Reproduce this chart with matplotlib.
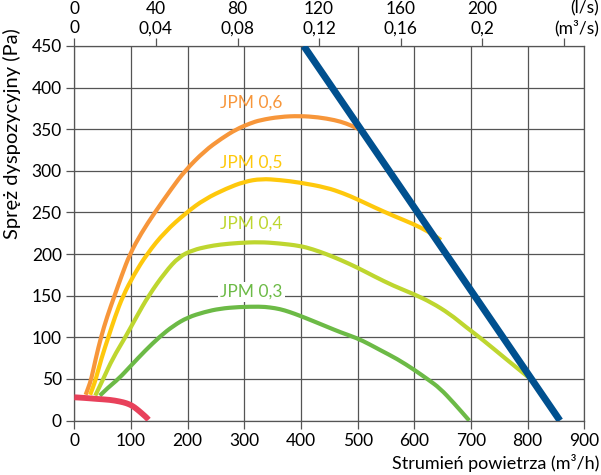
import matplotlib
matplotlib.use("Agg")
import matplotlib.pyplot as plt
from matplotlib.path import Path
from matplotlib.patches import PathPatch

plt.rcParams['font.family'] = ['Lato', 'DejaVu Sans']

# ---- data ----
x_ticks = [0, 100, 200, 300, 400, 500, 600, 700, 800, 900]
y_ticks = [0, 50, 100, 150, 200, 250, 300, 350, 400, 450]
top_ls = [0, 40, 80, 120, 160, 200, 240]
top_ls_labels = ["0", "40", "80", "120", "160", "200", ""]
top_m3s_labels = ["0", "0,04", "0,08", "0,12", "0,16", "0,2", ""]

jpm06_x = [20, 25, 30, 38, 47, 58, 71, 84, 98, 118, 142, 172, 195, 230, 260, 286,
           310, 328, 363, 398, 430, 460, 480, 500, 513]
jpm06_y = [31, 40, 50, 75, 100, 125, 150, 175, 200, 225, 250, 279, 300, 324, 339, 350,
           357, 361, 365, 366, 364.5, 361, 357, 351, 345]

jpm05_x = [28, 33, 38, 48, 60, 72, 86, 105, 128, 160, 198, 230, 269, 300, 330, 363,
           398, 445, 475, 499, 530, 563, 599, 625, 647]
jpm05_y = [31, 40, 50, 75, 100, 125, 150, 175, 200, 227, 250, 266, 279, 287, 290.5, 289,
           286, 280, 273, 266, 256, 246, 236, 227, 217]

jpm04_x = [37, 44, 51, 68, 90, 110, 131, 160, 185, 210, 235, 257, 290, 327, 360, 398, 420,
           445, 470, 499, 530, 563, 599, 630, 663, 690, 721, 760, 807]
jpm04_y = [30, 40, 50, 75, 100, 125, 150, 178, 197, 205, 209, 211.5, 213.5, 214.5, 213, 210, 206,
           200, 193, 184, 173, 162, 152, 142, 128, 113, 97, 75, 49]

jpm03_x = [45, 60, 78, 100, 125, 151, 175, 200, 230, 257, 290, 328, 345, 363, 380, 398,
           420, 445, 470, 499, 520, 539, 570, 600, 625, 645, 670, 697]
jpm03_y = [30, 40, 50, 66, 84, 101, 114, 124, 130.5, 134.5, 136.5, 137, 136, 134, 130.5, 126,
           120, 113, 106, 99, 92, 85, 74, 61, 49, 39, 21, 0]

system_x = [405, 857]
system_y = [450, 0]

red_x = [0, 20, 40, 63, 80, 92, 102, 110, 117, 122, 127, 131]
red_y = [28, 27.2, 26, 25, 23, 21, 18, 14, 10, 7, 4, 1]

labels = ["JPM 0,6", "JPM 0,5", "JPM 0,4", "JPM 0,3"]
label_pos = [(257, 382), (257, 309.5), (257, 236.3), (257, 154.8)]

c_orange = "#f7963a"
c_yellow = "#fec80c"
c_lgreen = "#bed62f"
c_green = "#6cba46"
c_blue = "#00508f"
c_red = "#e8415b"
grid_c = "#555555"


def smooth_curve(ax, xs, ys, color, lw, zorder):
    """Quadratic-Bezier rendering through the read points (points used as controls)."""
    pts = list(zip(xs, ys))
    verts = [pts[0]]
    codes = [Path.MOVETO]
    for i in range(1, len(pts) - 1):
        mid = ((pts[i][0] + pts[i + 1][0]) / 2, (pts[i][1] + pts[i + 1][1]) / 2)
        verts += [pts[i], mid]
        codes += [Path.CURVE3, Path.CURVE3]
    verts.append(pts[-1])
    codes.append(Path.LINETO)
    patch = PathPatch(Path(verts, codes), facecolor='none', edgecolor=color, lw=lw,
                      capstyle='butt', joinstyle='round', zorder=zorder,
                      transform=ax.transData)
    ax.add_patch(patch)


fig = plt.figure(figsize=(6.01, 4.75), dpi=100)
ax = fig.add_axes([74.3 / 601, 1 - 420.6 / 475, 510 / 601, 374.6 / 475])
ax.set_xlim(0, 900)
ax.set_ylim(0, 450)

ax.set_xticks(x_ticks)
ax.set_yticks(y_ticks)
ax.grid(True, color=grid_c, lw=0.9)
for s in ax.spines.values():
    s.set_color(grid_c)
    s.set_linewidth(0.9)
ax.tick_params(axis='both', color=grid_c, length=6, width=0.9, labelsize=12.5, pad=3)

lw = 3.0
smooth_curve(ax, jpm06_x, jpm06_y, c_orange, lw, 3)
smooth_curve(ax, jpm05_x, jpm05_y, c_yellow, lw, 3)
smooth_curve(ax, jpm04_x, jpm04_y, c_lgreen, lw, 3)
smooth_curve(ax, jpm03_x, jpm03_y, c_green, lw, 3)
ax.plot(system_x, system_y, color=c_blue, lw=5, zorder=4, solid_capstyle='butt')
smooth_curve(ax, red_x, red_y, c_red, 4.2, 5)

for (lx, ly), txt, c in zip(label_pos, labels, [c_orange, c_yellow, c_lgreen, c_green]):
    kw = {}
    if txt == "JPM 0,3":
        kw['bbox'] = dict(facecolor='white', edgecolor='none', pad=1.5)
    ax.text(lx, ly, txt, color=c, fontsize=12.5, ha='left', va='center', zorder=6, **kw)

axt = ax.twiny()
axt.set_xlim(ax.get_xlim())
axt.set_xticks([v * 3.6 for v in top_ls])
axt.set_xticklabels([a + "\n" + b for a, b in zip(top_ls_labels, top_m3s_labels)],
                    linespacing=1.25)
axt.tick_params(axis='x', color=grid_c, length=6, width=0.9, labelsize=12.5, pad=1)
for s in axt.spines.values():
    s.set_visible(False)

fig.text(599 / 601, 1 - 8 / 475, "(l/s)", ha='right', va='center', fontsize=12.5)
fig.text(599 / 601, 1 - 28 / 475, "(m³/s)", ha='right', va='center', fontsize=12.5)

fig.text(599 / 601, 1 - 463 / 475, "Strumień powietrza (m³/h)", ha='right', va='center',
         fontsize=13)
fig.text(12 / 601, 1 - 28 / 475, "Spręż dyspozycyjny (Pa)", rotation=90,
         ha='center', va='top', fontsize=14.5)

fig.savefig("out.png", dpi=100)
